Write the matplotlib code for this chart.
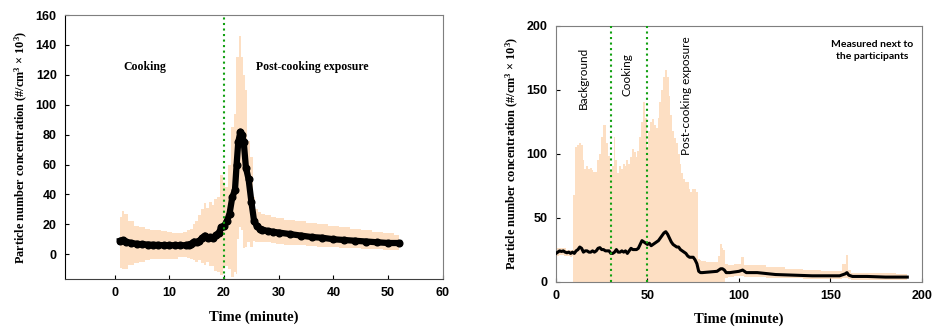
import numpy as np
import matplotlib.pyplot as plt

# ---- left panel: mean number concentration (x10^3 #/cm3) with SD band ----
t_left = [1, 1.5, 2, 3, 4, 5, 6, 7, 8, 9, 10, 11, 12, 13, 13.5, 14, 14.5, 15, 15.5,
          16, 16.5, 17, 17.5, 18, 18.5, 19, 19.5, 20, 20.5, 21, 21.5, 22, 22.3, 22.6,
          23, 23.3, 23.6, 24, 24.5, 25, 25.5, 26, 26.5, 27, 28, 29, 30, 32, 34, 36,
          38, 40, 42, 44, 46, 48, 50, 52]
mean_left = [9, 9.5, 8.5, 7.5, 7, 6.7, 6.5, 6.3, 6.2, 6, 6, 6, 6, 6, 6.5, 7, 8.5, 8, 9,
             11, 12.5, 11, 11.5, 11, 13, 14, 18, 19, 22, 27, 38, 43, 60, 75,
             82, 80, 75, 58, 50, 35, 22, 19, 17, 16.5, 15.5, 15, 14.5, 13.5, 12.5, 11.5,
             11, 10, 9.5, 9, 8.5, 8, 7.5, 7.5]
upper_left = [25, 29, 27, 22, 19, 18, 17, 16.5, 16, 15.5, 15, 14.5, 14, 15, 16, 17, 20, 22, 26,
              30, 34, 31, 35, 33, 37, 38, 53, 48, 45, 60, 85, 94, 132, 132,
              146, 132, 120, 110, 76, 65, 38, 30, 28, 27, 26, 25, 24, 23, 22, 21,
              20, 19, 18, 17, 16, 15, 14, 13]
lower_left = [-9, -10, -10, -7, -6, -5, -4, -3.5, -3, -3, -3, -3, -2, -2, -2.5, -3, -4, -5, -4,
              -6, -7, -5, -8, -8, -11, -12, -14, -10, -8, -10, -15, -12, -13, 10,
              18, 16, 4, 5, 8, 5, 9, 8, 8, 8, 8, 7.5, 7, 6.5, 6, 5.5,
              5, 4.5, 4.3, 4, 3.8, 3.5, 3, 3]

# ---- right panel: measured next to the participants ----
t_right = [0, 1, 2, 3, 4, 5, 6, 7, 8, 9, 10, 11, 12, 13, 14, 15, 16, 17, 18, 19, 20,
           21, 22, 23, 24, 25, 26, 27, 28, 29, 30, 31, 32, 33, 34, 35, 36, 37, 38, 39,
           40, 41, 42, 43, 44, 45, 46, 47, 48, 49, 50, 51, 52, 53, 54, 55, 56, 57, 58,
           59, 60, 61, 62, 63, 64, 65, 66, 67, 68, 69, 70, 71, 72, 73, 74, 75, 76, 77,
           78, 79, 80, 84, 88, 89, 90, 91, 92, 93, 95, 100, 102, 104, 110, 120, 130,
           140, 150, 155, 158, 159, 160, 162, 170, 180, 192]
mean_right = [22, 23, 24, 23.5, 24, 23, 22.5, 23, 22, 23, 22, 24, 25, 27, 26, 23, 24, 24, 23, 23, 24,
              23, 24, 26, 26.5, 25, 25, 24, 24, 24, 22, 22, 23, 25, 23, 23, 24, 23, 24, 22,
              24, 26, 25, 25, 25, 26, 29, 32, 31, 30, 29, 30, 28, 29, 30, 31, 32, 34, 36,
              38, 39, 37, 34, 31, 29, 28, 27, 27, 25, 24, 23, 22, 20, 19, 19, 19, 17, 14,
              8, 7, 7, 7.5, 8, 9, 10, 10, 9, 7, 7, 8, 9, 7, 7, 5.5, 5,
              4.5, 4.5, 4.5, 6, 7, 5, 4, 4, 3.5, 3.5]
upper_right = [25, 26, 26, 26, 26, 26, 25, 25, 25, 25, 68, 105, 107, 108, 107, 95, 88, 90, 88, 89, 87,
               86, 86, 95, 100, 113, 122, 122, 108, 98, 87, 90, 113, 95, 85, 90, 88, 92, 90, 95,
               92, 97, 104, 101, 97, 102, 113, 125, 140, 128, 105, 118, 125, 127, 122, 120, 128, 140, 150,
               160, 165, 160, 145, 130, 118, 112, 108, 100, 92, 85, 80, 78, 78, 72, 70, 72, 72, 70,
               18, 17, 16, 15, 15, 20, 29, 26, 25, 14, 13, 14, 19, 13, 13, 11, 10,
               9, 8, 8, 14, 21, 9, 7, 7, 6.5, 6]
lower_right = [19, 20, 21, 21, 21, 20, 20, 20, 19, 20, 0, 0, 0, 0, 0, 0, 0, 0, 0, 0, 0,
               0, 0, 0, 0, 0, 0, 0, 0, 0, 0, 0, 0, 0, 0, 0, 0, 0, 0, 0,
               0, 0, 0, 0, 0, 0, 0, 0, 0, 0, 0, 0, 0, 0, 0, 0, 0, 0, 0,
               0, 0, 0, 0, 0, 0, 0, 0, 0, 0, 0, 0, 0, 0, 0, 0, 0, 0, 0,
               0, 0, 0, 0, 0, 0, 0, 0, 0, 3, 3.5, 4, 4, 3.5, 3.5, 2.5, 2.5,
               2, 2, 2, 2.5, 3, 2, 1.5, 1.5, 1.5, 1.5]

band_color = '#FDDFC3'
green = '#11A011'
spine_gray = '#7F7F7F'
ylab = 'Particle number concentration (#/cm$^\\mathbf{3}$ $\\mathbf{\\times}$ 10$^\\mathbf{3}$)'

# tick labels: bold Arial-like
plt.rcParams['font.family'] = 'Liberation Sans'
plt.rcParams['font.weight'] = 'bold'
plt.rcParams['xtick.labelsize'] = 9
plt.rcParams['ytick.labelsize'] = 9
plt.rcParams['mathtext.fontset'] = 'custom'
plt.rcParams['mathtext.rm'] = 'Liberation Serif:bold'
plt.rcParams['mathtext.bf'] = 'Liberation Serif:bold'
plt.rcParams['mathtext.default'] = 'bf'

fig = plt.figure(figsize=(9.36, 3.34), dpi=100)
ax1 = fig.add_axes([0.0694, 0.165, 0.4036, 0.790])
ax2 = fig.add_axes([0.594, 0.157, 0.391, 0.766])

# left
ax1.fill_between(t_left, lower_left, upper_left, step='mid', color=band_color, lw=0)
ax1.plot(t_left, mean_left, color='black', lw=4.5, marker='o', ms=4.8, zorder=3)
ax1.axvline(20, color=green, ls=':', lw=1.5, zorder=4)
ax1.set_xlim(-9.1, 60)
ax1.set_ylim(-16.5, 160)
ax1.set_xticks(range(0, 61, 10))
ax1.set_yticks(range(0, 161, 20))
ax1.text(5.5, 125.5, 'Cooking', family='Liberation Serif', weight='bold', fontsize=8.5,
         ha='center', va='center')
ax1.text(36.2, 125, 'Post-cooking exposure', family='Liberation Serif', weight='bold',
         fontsize=8.5, ha='center', va='center')
for s in ['top', 'right']:
    ax1.spines[s].set_color(spine_gray)
ax1.spines['bottom'].set_color('#404040')

# right
ax2.fill_between(t_right, lower_right, upper_right, step='mid', color=band_color, lw=0)
ax2.plot(t_right, mean_right, color='black', lw=2.2, zorder=3)
ax2.axvline(30, color=green, ls=':', lw=1.5, zorder=4)
ax2.axvline(50, color=green, ls=':', lw=1.5, zorder=4)
ax2.set_xlim(0, 200)
ax2.set_ylim(0, 200)
ax2.set_xticks(range(0, 201, 50))
ax2.set_yticks(range(0, 201, 50))
ax2.text(15, 159.5, 'Background', family='Lato', weight='normal', fontsize=8.5, rotation=90,
         ha='center', va='center')
ax2.text(38.7, 162, 'Cooking', family='Lato', weight='normal', fontsize=8.5, rotation=90,
         ha='center', va='center')
ax2.text(71.5, 145, 'Post-cooking exposure', family='Lato', weight='normal', fontsize=8.5,
         rotation=90, ha='center', va='center')
ax2.text(173, 180.5, 'Measured next to\nthe participants', family='Lato', weight='bold',
         fontsize=7.5, ha='center', va='center', linespacing=1.5)
for s in ax2.spines.values():
    s.set_color(spine_gray)

for ax in (ax1, ax2):
    ax.tick_params(direction='in', length=3, width=0.8, colors='black', pad=6)
    ax.set_xlabel('Time (minute)', family='Liberation Serif', weight='bold', fontsize=10.5,
                  labelpad=8)
    ax.set_ylabel(ylab, family='Liberation Serif', weight='bold', fontsize=8.8, labelpad=4)

fig.savefig('out.png', dpi=100)
